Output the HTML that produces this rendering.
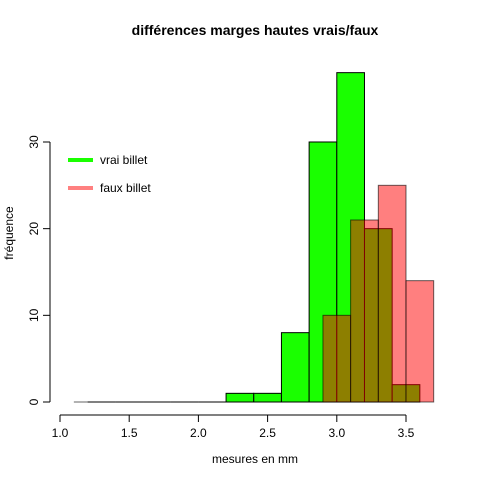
<!DOCTYPE html>
<html><head><meta charset="utf-8"><style>body{margin:0;background:#fff}svg{display:block;font-family:"Liberation Sans",sans-serif}</style></head>
<body>
<svg id="c" width="480" height="480">
<text x="255" y="35" text-anchor="middle" font-weight="bold" font-size="14">différences marges hautes vrais/faux</text>
<text x="255" y="463" text-anchor="middle" font-size="12">mesures en mm</text>
<text transform="translate(13,233) rotate(-90)" text-anchor="middle" font-size="12">fréquence</text>
<g id="bars"></g><g id="axes"></g>
<g>
<line x1="68" y1="160" x2="93" y2="160" stroke="#1aff00" stroke-width="4"/>
<text x="100" y="164" font-size="12">vrai billet</text>
<line x1="68" y1="188" x2="93" y2="188" stroke="#ff8080" stroke-width="4"/>
<text x="100" y="192" font-size="12">faux billet</text>
</g>
</svg>
<script>
const vraiBreakStart = 1.2;
const vraiCounts = [0,0,0,0,0,1,1,8,30,38,20,2];
const fauxBreakStart = 1.1;
const fauxCounts = [0,0,0,0,0,0,0,0,0,10,21,25,14];
const binWidth = 0.2;
const xTicks = [1.0,1.5,2.0,2.5,3.0,3.5];
const yTicks = [0,10,20,30];
const NS="http://www.w3.org/2000/svg";
const xs=v=>60+(v-1)*138.4, ys=v=>402-v*8.667;
const bars=document.getElementById('bars'), axes=document.getElementById('axes');
function mk(t,a,p){const e=document.createElementNS(NS,t);for(const k in a)e.setAttribute(k,a[k]);p.appendChild(e);return e;}
function hist(start,counts,fill,stroke,name){
 counts.forEach((c,i)=>{const x0=xs(start+i*binWidth),x1=xs(start+(i+1)*binWidth);
  if(c===0){const l=mk('line',{x1:x0,x2:x1,y1:ys(0),y2:ys(0),stroke:stroke},bars);
   
   return;}
  const r=mk('rect',{x:x0,y:ys(c),width:x1-x0,height:ys(0)-ys(c),fill:fill,stroke:stroke},bars);
  
  });
}
hist(vraiBreakStart,vraiCounts,'#1aff00','#000','vrai');
hist(fauxBreakStart,fauxCounts,'rgba(255,0,0,0.5)','rgba(0,0,0,0.6)','faux');
let l=mk('line',{x1:xs(xTicks[0]),x2:xs(xTicks[xTicks.length-1]),y1:415,y2:415,stroke:'#000'},axes);


xTicks.forEach(v=>{mk('line',{x1:xs(v),x2:xs(v),y1:415,y2:422,stroke:'#000'},axes);
 const t=mk('text',{x:xs(v),y:437,'text-anchor':'middle','font-size':12},axes);t.textContent=v.toFixed(1);
 
 });
l=mk('line',{x1:50,x2:50,y1:ys(yTicks[0]),y2:ys(yTicks[yTicks.length-1]),stroke:'#000'},axes);


yTicks.forEach(v=>{mk('line',{x1:43,x2:50,y1:ys(v),y2:ys(v),stroke:'#000'},axes);
 const t=mk('text',{transform:`translate(38,${ys(v)}) rotate(-90)`,'text-anchor':'middle','font-size':12},axes);t.textContent=v;
 
 });
</script>
</body></html>
